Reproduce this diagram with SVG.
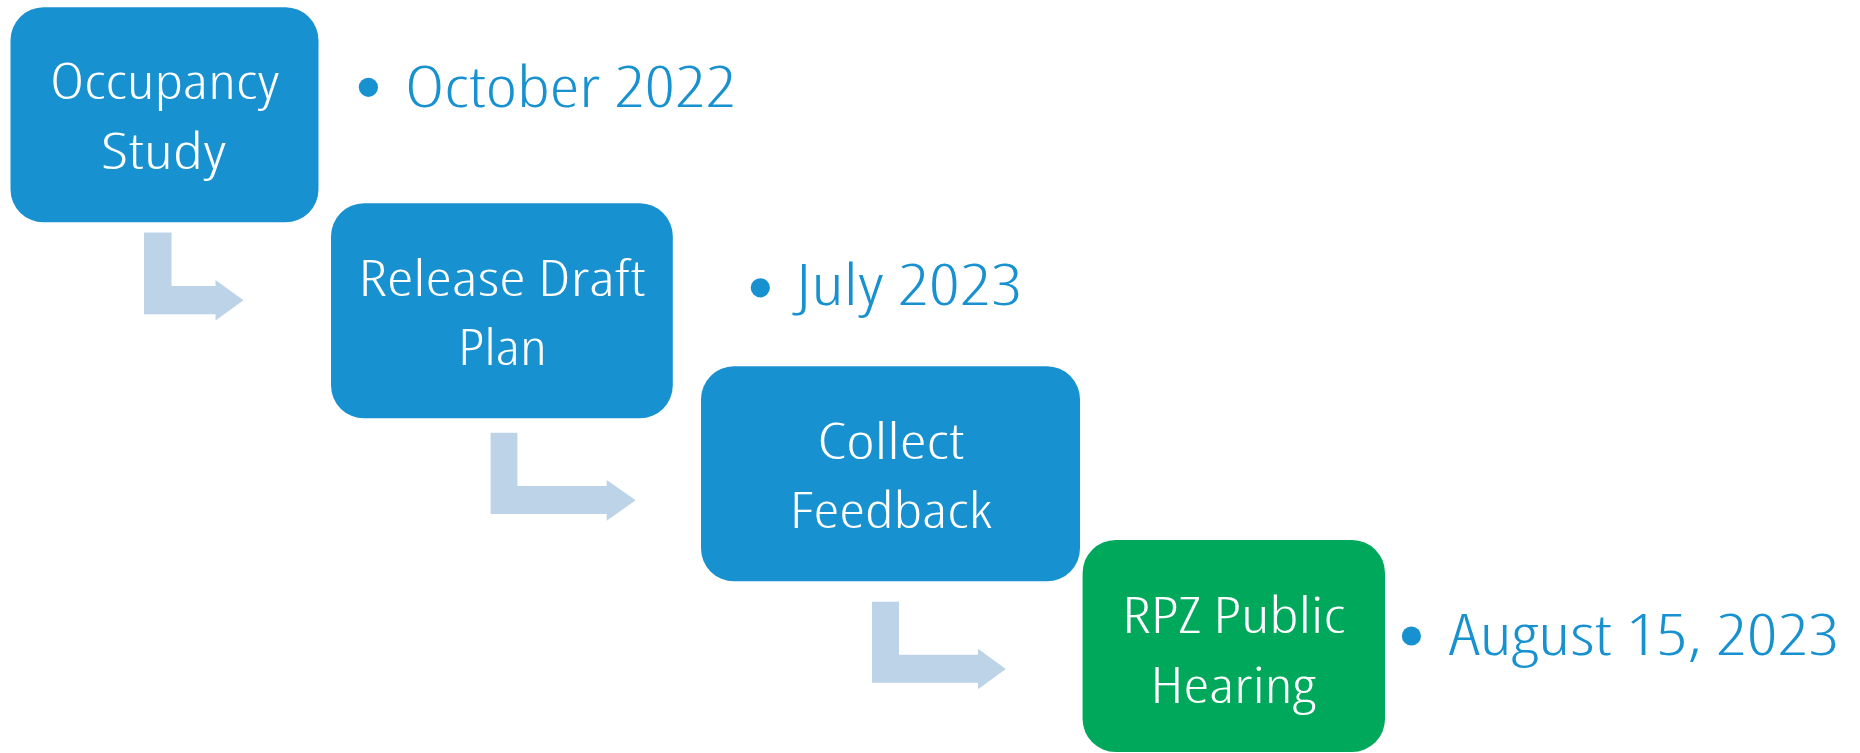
<svg xmlns="http://www.w3.org/2000/svg" width="1860" height="753" viewBox="0 0 1860 753">
  <style>
    .box { fill: #1891D0; }
    .box.green { fill: #00A85B; }
    .lbl { font-family: "Open Sans", "Noto Sans", "DejaVu Sans", sans-serif; font-size: 49px; font-weight: 300; fill: #FFFFFF; text-anchor: middle; font-stretch: condensed; }
    .date { font-family: "Open Sans", "Noto Sans", "DejaVu Sans", sans-serif; font-size: 57px; font-weight: 300; fill: #1891D0; font-stretch: condensed; }
    .dot { fill: #1891D0; }
    .arrow { fill: #BCD3E8; }
  </style>
  <rect width="1860" height="753" fill="#FFFFFF"/>
  <g id="connectors">
    <path class="arrow" d="M144,232.5 H171.5 V286 H215.5 V280 L243.5,300.2 L215.5,320.5 V314.3 H144 Z"/>
    <path class="arrow" d="M490.6,432.7 H517.4 V486 H606.7 V480 L635.7,500.3 L606.7,520.7 V514 H490.6 Z"/>
    <path class="arrow" d="M872,601.7 H899 V654.7 H978 V648.7 L1005.8,669 L978,689.3 V682.7 H872 Z"/>
  </g>
  <g id="node-occupancy-study">
    <rect class="box" x="10.5" y="7.3" width="308" height="215" rx="33" ry="33"/>
    <text class="lbl" x="164.6" y="99.3" textLength="229" lengthAdjust="spacingAndGlyphs">Occupancy</text>
    <text class="lbl" x="163.5" y="169.3" textLength="125" lengthAdjust="spacingAndGlyphs">Study</text>
  </g>
  <g id="date-october-2022">
    <circle class="dot" cx="368.4" cy="87.3" r="9.6"/>
    <text class="date" x="405" y="106.7" textLength="331" lengthAdjust="spacingAndGlyphs">October 2022</text>
  </g>
  <g id="node-release-draft-plan">
    <rect class="box" x="331" y="203.3" width="341.8" height="215" rx="33" ry="33"/>
    <text class="lbl" x="502" y="295.7" textLength="287" lengthAdjust="spacingAndGlyphs">Release Draft</text>
    <text class="lbl" x="502.6" y="365" textLength="89" lengthAdjust="spacingAndGlyphs">Plan</text>
  </g>
  <g id="date-july-2023">
    <circle class="dot" cx="760.3" cy="287.8" r="9.6"/>
    <text class="date" x="796" y="305" textLength="226" lengthAdjust="spacingAndGlyphs">July 2023</text>
  </g>
  <g id="node-collect-feedback">
    <rect class="box" x="701" y="366.3" width="379" height="215" rx="33" ry="33"/>
    <text class="lbl" x="890.7" y="459.3" textLength="147" lengthAdjust="spacingAndGlyphs">Collect</text>
    <text class="lbl" x="890.7" y="528.3" textLength="202" lengthAdjust="spacingAndGlyphs">Feedback</text>
  </g>
  <g id="node-rpz-public-hearing">
    <rect class="box green" x="1082.6" y="540" width="302.4" height="212" rx="33" ry="33"/>
    <text class="lbl" x="1233.8" y="632.7" textLength="223" lengthAdjust="spacingAndGlyphs">RPZ Public</text>
    <text class="lbl" x="1233" y="702.7" textLength="165" lengthAdjust="spacingAndGlyphs">Hearing</text>
  </g>
  <g id="date-august-15-2023">
    <circle class="dot" cx="1411.4" cy="636" r="9.6"/>
    <text class="date" x="1449" y="654.7" textLength="390" lengthAdjust="spacingAndGlyphs">August 15, 2023</text>
  </g>
</svg>
